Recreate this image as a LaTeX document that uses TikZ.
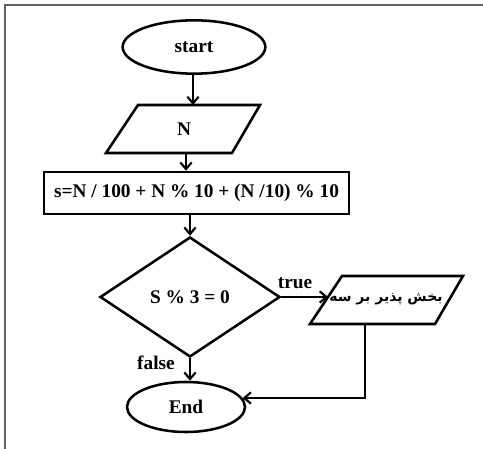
\documentclass[tikz,border=0pt]{standalone}
\usepackage{fontspec}
\setmainfont{Liberation Serif}
\newfontfamily\arabicfont[Script=Arabic]{DejaVu Sans}
\TeXXeTstate=1
\usetikzlibrary{shapes.geometric,arrows.meta}
\begin{document}
\begin{tikzpicture}[x=0.75pt,y=-0.75pt,
  ln/.style={line width=1.9pt},
  arr/.style={ln,-{Straight Barb[length=5pt,width=8.5pt,line width=1.6pt]}},
  lbl/.style={font=\fontsize{14.5}{17}\selectfont\bfseries},
  term/.style={ellipse,draw,ln,inner sep=0pt,lbl}]
\useasboundingbox (0,0) rectangle (483,449);
\draw[gray!75!black,line width=1.5pt] (5,449) -- (5,5) -- (483,5);
% start
\node[term,minimum width=107pt,minimum height=40pt] (start) at (194,47) {start};
% N parallelogram
\coordinate (n1) at (138,105); \coordinate (n2) at (260,105);
\coordinate (n3) at (232,153); \coordinate (n4) at (106,153);
\draw[ln,line join=miter] (n1) -- (n2) -- (n3) -- (n4) -- cycle;
\node[lbl] (N) at (184,129) {N};
\coordinate (Ntop) at (193,105);
\coordinate (Nbot) at (186,153);
% rectangle
\node[draw,ln,lbl,minimum width=228.75pt,minimum height=31.5pt,inner sep=0pt] (calc) at (196.5,193) {s=N / 100 + N \% 10 + (N /10) \% 10};
% diamond
\node[diamond,draw,ln,lbl,minimum width=135pt,minimum height=90pt,inner sep=0pt] (cond) at (190,297) {S \% 3 = 0};
% output parallelogram
\coordinate (p1) at (342,276); \coordinate (p2) at (463,276);
\coordinate (p3) at (435,324); \coordinate (p4) at (310,324);
\draw[ln,line join=miter] (p1) -- (p2) -- (p3) -- (p4) -- cycle;
\node (out) at (386,299) {\fontsize{10.5}{13}\selectfont\arabicfont\bfseries\beginR بخش پذیر بر سه\endR};
\coordinate (Pleft) at (328,297);
\coordinate (Pbot) at (365,324);
% End
\node[term,minimum width=88.5pt,minimum height=37.5pt] (End) at (186,407) {End};
% connectors
\draw[arr] (start.south -| Ntop) -- (Ntop);
\draw[arr] (Nbot) -- (Nbot |- calc.north);
\draw[arr] (calc.south -| cond.north) -- (cond.north);
\draw[arr] (cond.east) -- (Pleft);
\draw[arr] (cond.south) -- (cond.south |- End.north);
\draw[arr] (Pbot) |- (End.9);
% labels
\node[lbl] (tl) at (295,283) {true};
\node[lbl] (fl) at (156,363) {false};
\end{tikzpicture}
\end{document}
